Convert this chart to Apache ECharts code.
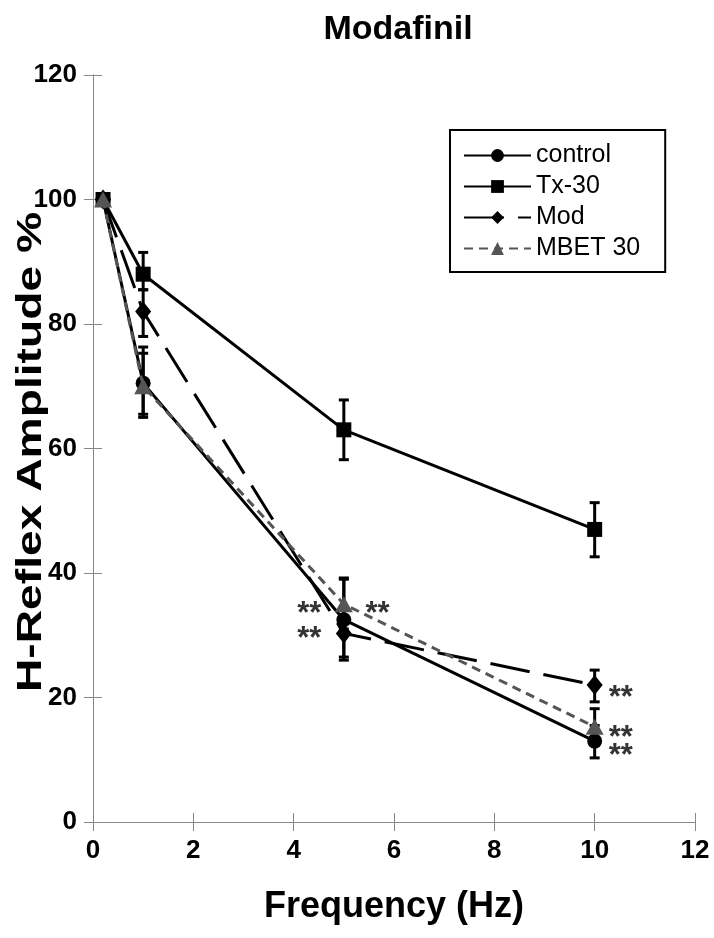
<!DOCTYPE html>
<html><head><meta charset="utf-8">
<script src="https://cdn.jsdelivr.net/npm/echarts@6/dist/echarts.min.js"></script>
<style>html,body{margin:0;padding:0;background:#fff}#c{width:714px;height:938px}</style>
</head><body><div id="c"></div>
<script>
const freq = [0.2, 1, 5, 10];
const xTicks = [0, 2, 4, 6, 8, 10, 12];
const yTicks = [0, 20, 40, 60, 80, 100, 120];
const controlY = [100, 70.5, 32.5, 13];
const controlLo = [100, 65.5, 26, 10.3];
const controlHi = [100, 76.3, 39, 15.5];
const txY = [100, 88, 63, 47];
const txLo = [100, 85.5, 58.2, 42.6];
const txHi = [100, 91.5, 67.8, 51.3];
const modY = [100, 82, 30.3, 22];
const modLo = [100, 78, 26.5, 19.3];
const modHi = [100, 85.5, 34, 24.4];
const mbetY = [100, 70, 35, 15.3];
const mbetLo = [100, 65, 31, 12.5];
const mbetHi = [100, 75.3, 39.2, 18.2];
const starX = [4.31, 4.31, 5.67, 10.52, 10.52, 10.52];
const starY = [34.5, 30.5, 34.4, 20.9, 14.5, 11.6];

const FONT = 'Liberation Sans, Arial, sans-serif';
function pts(ys){ return freq.map((x,i)=>[x, ys[i]]); }
function errData(lo, hi){ return freq.map((x,i)=>[x, lo[i], hi[i]]).filter(d=>d[1]!==d[2]); }
function errSeries(name, lo, hi, color){
  return {
    type:'custom', name: name+'_err', z: 3, silent:true,
    data: errData(lo, hi),
    renderItem: function(params, api){
      const x = api.value(0);
      const p1 = api.coord([x, api.value(1)]);
      const p2 = api.coord([x, api.value(2)]);
      const w = 5;
      const st = {stroke: color, lineWidth: 3};
      return {type:'group', children:[
        {type:'line', shape:{x1:p1[0],y1:p1[1],x2:p2[0],y2:p2[1]}, style:st},
        {type:'line', shape:{x1:p1[0]-w,y1:p1[1],x2:p1[0]+w,y2:p1[1]}, style:st},
        {type:'line', shape:{x1:p2[0]-w,y1:p2[1],x2:p2[0]+w,y2:p2[1]}, style:st}
      ]};
    }
  };
}
const chart = echarts.init(document.getElementById('c'));
const axisLine = {show:true, lineStyle:{color:'#888', width:1}};
const grid = {left:93, right:19, top:75, bottom:116};
chart.setOption({
  backgroundColor:'#fff',
  animation:false,
  title:{text:'Modafinil', left:393, top:8, textAlign:'center',
    textStyle:{fontFamily:FONT, fontSize:34, fontWeight:'bold', color:'#000'}},
  grid: grid,
  graphic:[{
    type:'text', x:31, y:452, rotation:Math.PI/2, scaleX:1.32, scaleY:1,
    style:{text:'H-Reflex Amplitude %', fontFamily:FONT, fontSize:35, fontWeight:'bold',
      fill:'#000', align:'center', verticalAlign:'middle'}
  }],
  legend:{
    orient:'vertical', left:450, top:130,
    padding:[13, 25, 11, 13], itemGap:6, itemWidth:67, itemHeight:16,
    borderColor:'#000', borderWidth:2, backgroundColor:'#fff',
    textStyle:{fontFamily:FONT, fontSize:25, color:'#000'},
    data:['control','Tx-30','Mod','MBET 30']
  },
  xAxis:[
    {type:'value', min:0, max:12, interval:2, position:'bottom',
     axisLine:axisLine, axisTick:{show:true, inside:true, length:9, lineStyle:{color:'#888'}},
     splitLine:{show:false},
     axisLabel:{fontFamily:FONT, fontSize:26, fontWeight:'bold', color:'#000', margin:16,
       formatter:v=>xTicks.includes(v)?String(v):''},
     name:'Frequency (Hz)', nameLocation:'middle', nameGap:67,
     nameTextStyle:{fontFamily:FONT, fontSize:36, fontWeight:'bold', color:'#000'}},
    {type:'value', min:0, max:12, interval:2, position:'top',
     axisLine:axisLine, axisTick:{show:true, inside:true, length:9, lineStyle:{color:'#888'}},
     axisLabel:{show:false}, splitLine:{show:false}}
  ],
  yAxis:[
    {type:'value', min:0, max:120, interval:20, position:'left',
     axisLine:axisLine, axisTick:{show:true, inside:true, length:9, lineStyle:{color:'#888'}},
     splitLine:{show:false},
     axisLabel:{fontFamily:FONT, fontSize:26, fontWeight:'bold', color:'#000', margin:16,
       formatter:v=>yTicks.includes(v)?String(v):''}},
    {type:'value', min:0, max:120, interval:20, position:'right',
     axisLine:axisLine, axisTick:{show:true, inside:true, length:9, lineStyle:{color:'#888'}},
     axisLabel:{show:false}, splitLine:{show:false}}
  ],
  series:[
    errSeries('control', controlLo, controlHi, '#000'),
    errSeries('Tx-30', txLo, txHi, '#000'),
    errSeries('Mod', modLo, modHi, '#000'),
    errSeries('MBET 30', mbetLo, mbetHi, '#000'),
    {type:'line', name:'control', data:pts(controlY), z:4, symbol:'circle', symbolSize:15,
     lineStyle:{color:'#000', width:3}, itemStyle:{color:'#000'}},
    {type:'line', name:'Tx-30', data:pts(txY), z:4, symbol:'rect', symbolSize:15,
     lineStyle:{color:'#000', width:3}, itemStyle:{color:'#000'}},
    {type:'line', name:'Mod', data:pts(modY), z:4, symbol:'diamond', symbolSize:[16,20],
     lineStyle:{color:'#000', width:3, type:[40,14]}, itemStyle:{color:'#000'}},
    {type:'line', name:'MBET 30', data:pts(mbetY), z:5, symbol:'triangle', symbolSize:[18,16],
     lineStyle:{color:'#555', width:3, type:[9,6]}, itemStyle:{color:'#555'}},
    {type:'scatter', name:'stars', data:starX.map((x,i)=>[x, starY[i]]), symbolSize:0, silent:true, z:6,
     label:{show:true, position:'inside', formatter:'**', fontFamily:FONT, fontSize:31, fontWeight:'bold', color:'#000', offset:[0,7]}}
  ]
});
</script></body></html>
